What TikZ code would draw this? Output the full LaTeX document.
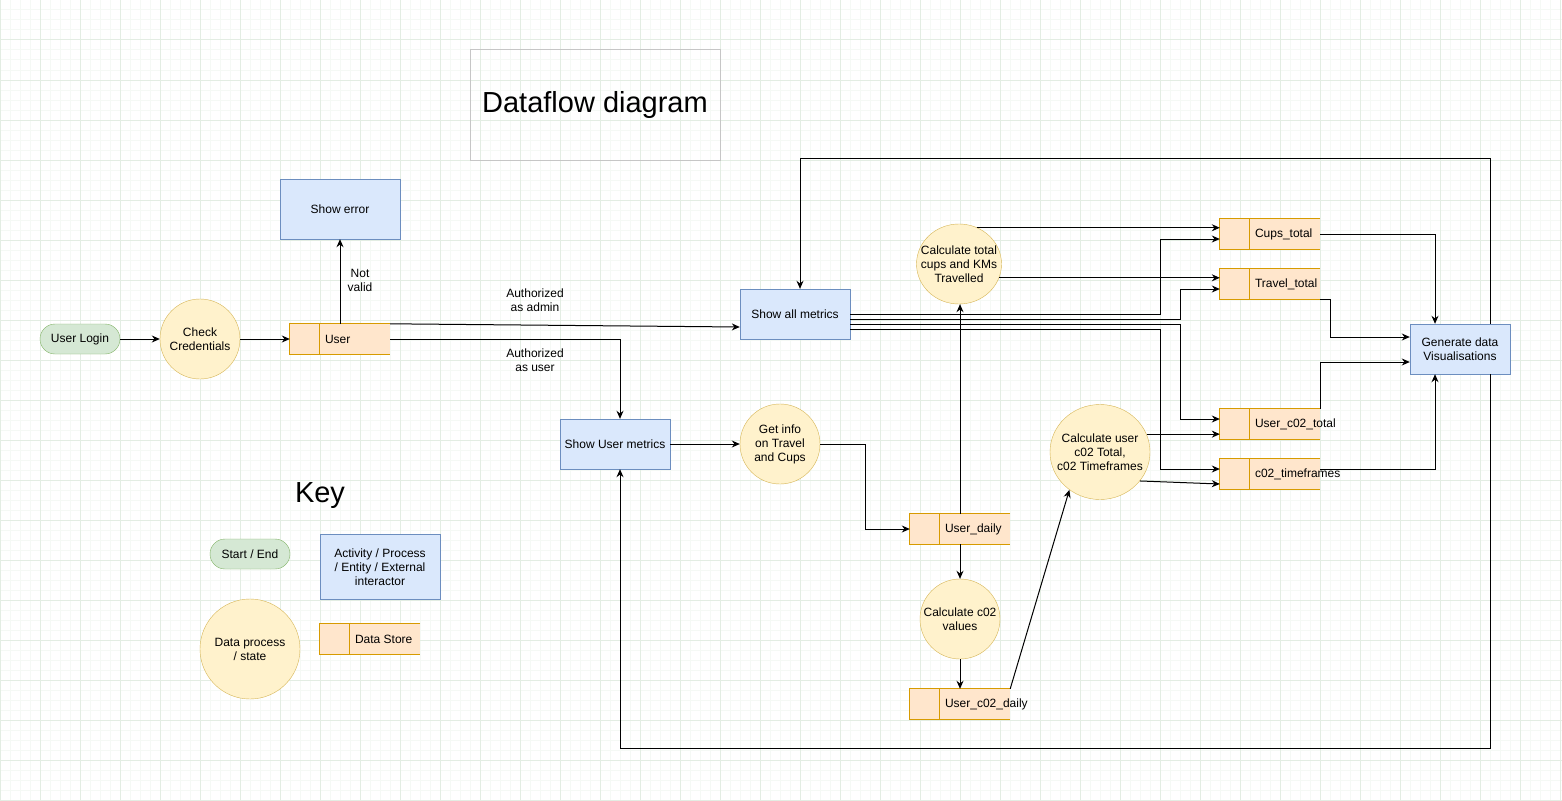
\documentclass[tikz,border=0pt]{standalone}
\usepackage{fontspec}
\setmainfont{Liberation Sans}
\usetikzlibrary{arrows.meta,shapes.geometric}

\definecolor{gridminor}{HTML}{F5F9F5}
\definecolor{gridmajor}{HTML}{E3EDE3}
\definecolor{startfill}{HTML}{D5E8D4}
\definecolor{startline}{HTML}{82B366}
\definecolor{procfill}{HTML}{DAE8FC}
\definecolor{procline}{HTML}{6C8EBF}
\definecolor{dpfill}{HTML}{FFF2CC}
\definecolor{dpline}{HTML}{D6B656}
\definecolor{storefill}{HTML}{FFE6CC}
\definecolor{storeline}{HTML}{D79B00}

\tikzset{
  startend/.style={draw=startline, fill=startfill, rounded corners=15pt, minimum width=80pt, minimum height=30pt, inner sep=0pt},
  procbox/.style={draw=procline, fill=procfill, align=center, inner sep=0pt},
  dataproc/.style={ellipse, draw=dpline, fill=dpfill, inner sep=0pt},
  store/.style={fill=storefill, minimum width=100pt, minimum height=30pt, inner sep=0pt},
  storeedge/.style={draw=storeline, line width=1pt},
  lbl/.style={align=center, inner sep=0pt},
  flow/.style={line width=1pt, -{Stealth[length=8pt,width=7pt]}},
  bigtext/.style={font=\fontsize{29}{34}\selectfont, inner sep=0pt}
}

% data store: name, centre x, centre y, label
\newcommand{\datastore}[4]{%
  \node[store] (#1) at (#2,#3) {};
  \draw[storeedge] (#1.north east) -- (#1.north west) -- (#1.south west) -- (#1.south east);
  \draw[storeedge] ([xshift=30pt]#1.north west) -- ([xshift=30pt]#1.south west);
  \node[anchor=west, inner sep=0pt] (#1-text) at ([xshift=35pt]#1.west) {#4};
}

\begin{document}
\begin{tikzpicture}[x=1pt, y=-1pt, font=\fontsize{12}{14}\selectfont]
  \useasboundingbox (0,0) rectangle (1562,800);
  \fill[white] (0,0) rectangle (1562,800);
  % grid
  \foreach \gx in {0,10,...,1560} \draw[gridminor, line width=1pt] (\gx,0) -- (\gx,800);
  \foreach \gy in {0,10,...,800} \draw[gridminor, line width=1pt] (0,\gy) -- (1562,\gy);
  \foreach \gx in {0,40,...,1560} \draw[gridmajor, line width=1pt] (\gx,0) -- (\gx,800);
  \foreach \gy in {0,40,...,800} \draw[gridmajor, line width=1pt] (0,\gy) -- (1562,\gy);

  % title
  \node[draw=gray!45, line width=1pt, minimum width=250pt, minimum height=110pt, bigtext] (title) at (595,105) {Dataflow diagram};

  % main flow
  \node[startend] (login) at (80,339) {User Login};
  \node[dataproc, minimum width=80pt, minimum height=80pt, label={[lbl]center:Check\\Credentials}] (check) at (200,339) {};
  \datastore{user}{340}{339}{User}
  \node[procbox, minimum width=120pt, minimum height=60pt] (showerr) at (340,209) {Show error};
  \node[procbox, minimum width=110pt, minimum height=50pt] (allm) at (795,314) {Show all metrics};
  \node[procbox, minimum width=110pt, minimum height=50pt] (userm) at (615,444) {Show User metrics};
  \node[dataproc, minimum width=80pt, minimum height=80pt, label={[lbl]center:Get info\\on Travel\\and Cups}] (getinfo) at (780,444) {};
  \datastore{udaily}{960}{529}{User\_daily}
  \node[dataproc, minimum width=85pt, minimum height=80pt, label={[lbl]center:Calculate total\\cups and KMs\\Travelled}] (calctot) at (959,264) {};
  \node[dataproc, minimum width=80pt, minimum height=80pt, label={[lbl]center:Calculate c02\\values}] (calcco2) at (960,619) {};
  \datastore{uco2d}{960}{704}{User\_c02\_daily}
  \node[dataproc, minimum width=100pt, minimum height=95pt, label={[lbl]center:Calculate user\\c02 Total,\\c02 Timeframes}] (calcuser) at (1100,452) {};
  \datastore{cups}{1270}{234}{Cups\_total}
  \datastore{travel}{1270}{284}{Travel\_total}
  \datastore{uc2t}{1270}{424}{User\_c02\_total}
  \datastore{c2tf}{1270}{474}{c02\_timeframes}
  \node[procbox, minimum width=100pt, minimum height=50pt] (gen) at (1460,349) {Generate data\\Visualisations};

  % labels
  \node[lbl] (notvalid) at (360,280) {Not\\valid};
  \node[lbl] (asadmin) at (535,300) {Authorized\\as admin};
  \node[lbl] (asuser) at (535,360) {Authorized\\as user};

  % connectors
  \draw[flow] (login) -- (check);
  \draw[flow] (check) -- (user);
  \draw[flow] (user.north) -- (showerr.south);
  \draw[flow] (user.north east) -- ([yshift=-13pt]allm.west);
  \draw[flow] (user.east) -| ([xshift=5pt]userm.north);
  \draw[flow] (userm) -- (getinfo);
  \draw[flow] (getinfo.east) -- ++(45,0) |- (udaily.west);
  \draw[flow] (udaily.north) -- (calctot.south -| udaily.north);
  \draw[flow] (udaily.south) -- (calcco2.north);
  \draw[flow] (calcco2.south) -- (uco2d.north);
  \draw[flow] (uco2d.north east) -- (calcuser.231);
  \draw[flow] (calcuser.21) -- (calcuser.21 -| uc2t.west);
  \draw[flow] (calcuser.-36) -- ([yshift=-10pt]c2tf.west);
  \draw[flow] (calctot.63) -- (calctot.63 -| cups.west);
  \draw[flow] (calctot.-19) -- (calctot.-19 -| travel.west);
  \draw[flow] (allm.east) -- ++(310,0) |- ([yshift=-5pt]cups.west);
  \draw[flow] ([yshift=-5pt]allm.east) -- ++(330,0) |- ([yshift=-5pt]travel.west);
  \draw[flow] ([yshift=-10pt]allm.east) -- ++(330,0) |- ([yshift=5pt]uc2t.west);
  \draw[flow] ([yshift=-15pt]allm.east) -- ++(310,0) |- ([yshift=5pt]c2tf.west);
  \draw[flow] (cups.east) -| ([xshift=-25pt]gen.north);
  \draw[flow] (travel.south east) -- ++(10,0) |- ([yshift=12pt]gen.west);
  \draw[flow] (uc2t.north east) |- ([yshift=-13pt]gen.west);
  \draw[flow] ([yshift=5pt]c2tf.east) -| ([xshift=-25pt]gen.south);
  \draw[flow] ([xshift=30pt]gen.north) -- ++(0,-165) -| ([xshift=5pt]allm.north);
  \draw[flow] ([xshift=30pt]gen.south) -- ++(0,374) -| ([xshift=5pt]userm.south);

  % key
  \node[bigtext] (key) at (320,496) {Key};
  \node[startend] (keystart) at (250,554) {Start / End};
  \node[procbox, minimum width=120pt, minimum height=65pt] (keyproc) at (380,567) {Activity / Process\\/ Entity / External\\interactor};
  \node[dataproc, minimum width=100pt, minimum height=100pt, label={[lbl]center:Data process\\/ state}] (keydp) at (250,649) {};
  \datastore{keystore}{370}{639}{Data Store}
\end{tikzpicture}
\end{document}
